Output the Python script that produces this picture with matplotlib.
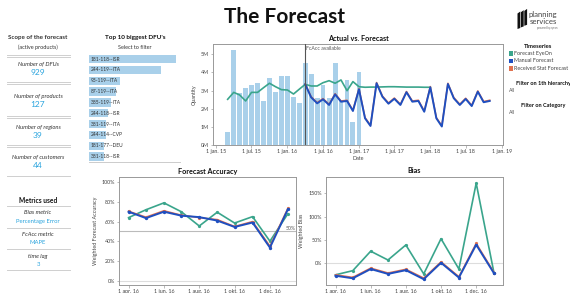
import numpy as np
import pandas as pd
import matplotlib.pyplot as plt
from matplotlib.patches import Rectangle, Polygon
from matplotlib.lines import Line2D

# --- CONFIGURACIÓN ---
W, H = 570, 293
plt.rcParams['font.family'] = ['Lato', 'DejaVu Sans']

C_TEAL = "#3aa58c"
C_BLUE = "#1f4fc0"
C_ORANGE = "#e0714f"
C_BAR = "#a9d0ea"
C_NUM = "#2aa4de"
C_TXT = "#333333"
C_GRID = "#999999"

# --- DATOS: Actual vs. Forecast (millones) ---
actual_dates = pd.date_range("2015-03-01", periods=23, freq="MS")
actual_qty = [0.76, 5.23, 2.88, 3.17, 3.30, 3.44, 2.42, 3.68, 2.91, 3.83, 3.83, 2.64, 2.35,
              4.54, 3.92, 2.60, 3.30, 2.60, 4.54, 2.50, 3.59, 1.30, 4.00]

eyeon_dates = pd.date_range("2015-03-01", periods=35, freq="MS")
eyeon_qty = [2.53, 2.91, 2.77, 2.44, 2.91, 2.91, 3.17, 3.41, 3.22, 3.06, 3.04, 2.82, 3.08,
             3.35, 3.26, 3.26, 3.44, 3.55, 3.41, 3.59, 3.00, 3.50, 3.22, 3.19,
             3.20, 3.20, 3.21, 3.22, 3.22, 3.21, 3.20, 3.20, 3.20, 3.19, 3.19]

manual_dates = pd.date_range("2016-04-01", periods=32, freq="MS")
manual_qty = [3.35, 2.64, 2.31, 2.53, 2.22, 2.80, 2.40, 2.44, 1.89, 3.08, 1.49, 1.07,
              3.41, 2.67, 2.29, 2.56, 2.22, 2.92, 2.40, 2.44, 1.85, 3.19, 1.49, 1.04,
              3.37, 2.59, 2.22, 2.55, 2.16, 2.95, 2.37, 2.44]
stat_qty = [3.38, 2.68, 2.35, 2.57, 2.26, 2.84, 2.44, 2.48, 1.93, 3.12, 1.53, 1.11,
            3.45, 2.71, 2.33, 2.60, 2.26, 2.96, 2.44, 2.48, 1.89, 3.23, 1.53, 1.08,
            3.41, 2.63, 2.26, 2.59, 2.20, 2.99, 2.41, 2.48]

fcacc_start = pd.Timestamp("2016-04-01")

main_ticks = pd.date_range("2015-01-01", periods=9, freq="6MS")
main_tick_labels = ["1 jan. 15", "1 jul. 15", "1 jan. 16", "1 jul. 16", "1 jan. 17",
                    "1 jul. 17", "1 jan. 18", "1 jul. 18", "1 jan. 19"]
qty_ticks = [0, 1, 2, 3, 4, 5]
qty_tick_labels = ["0M", "1M", "2M", "3M", "4M", "5M"]

# --- DATOS: Forecast Accuracy / Bias (%) ---
eval_dates = pd.date_range("2016-04-01", periods=10, freq="MS")
fa_eyeon = [64, 72, 79, 70, 55.5, 69.5, 58.5, 65, 40, 68]
fa_manual = [70, 63.5, 70, 66, 64.5, 61, 54.5, 59, 33.5, 72.5]
fa_stat = [70.5, 64.5, 71, 66.5, 64, 62, 55, 60, 35, 73.5]

bias_eyeon = [-26, -17, 25, 6, 38.5, -24, 52, -13.5, 172, -23]
bias_manual = [-28, -33.5, -13.5, -24, -16, -35.5, 0, -32, 39, -23]
bias_stat = [-26, -31.5, -11.5, -22, -14, -33, 2, -30, 42, -21]

eval_ticks = pd.date_range("2016-04-01", periods=5, freq="2MS")
eval_tick_labels = ["1 apr. 16", "1 jun. 16", "1 aug. 16", "1 okt. 16", "1 dec. 16"]
fa_ticks = [0, 20, 40, 60, 80, 100]
bias_ticks = [0, 50, 100, 150]

# --- DATOS: Top 10 DFU's y panel izquierdo ---
top10_dfu = ["181-118--ISR", "244-119--ITA", "93-119--ITA", "87-119--ITA", "385-119--ITA",
             "244-118--ISR", "381-119--ITA", "244-114--CVP", "181-177--DEU", "381-118--ISR"]
top10_qty = [87.4, 72.4, 31.4, 27.4, 22.4, 19.0, 17.4, 16.7, 15.0, 15.0]

scope_labels = ["Number of DFUs", "Number of products", "Number of regions", "Number of customers"]
scope_values = ["929", "127", "39", "44"]
metric_labels = ["Bias metric", "FcAcc metric", "time lag"]
metric_values = ["Percentage Error", "MAPE", "3"]

series_names = ["Forecast EyeOn", "Manual Forecast", "Received Stat Forecast"]
series_colors = [C_TEAL, C_BLUE, C_ORANGE]


def fx(x):
    return x / W


def fy(y):
    return 1 - y / H


def rect(x0, y0, x1, y1):
    return [fx(x0), fy(y1), (x1 - x0) / W, (y1 - y0) / H]


def texto(x, y, s, size=4.3, **kw):
    kw.setdefault('ha', 'center')
    kw.setdefault('va', 'center')
    kw.setdefault('color', C_TXT)
    fig.text(fx(x), fy(y), s, fontsize=size, **kw)


def linea(x0, x1, y, color="#cfcfcf", lw=0.7):
    fig.add_artist(Line2D([fx(x0), fx(x1)], [fy(y), fy(y)], transform=fig.transFigure,
                          color=color, lw=lw))


def estilo(ax):
    for s in ax.spines.values():
        s.set_color(C_GRID)
        s.set_linewidth(0.7)
    ax.tick_params(labelsize=3.9, length=1.8, width=0.4, color="#888888",
                   labelcolor="#444444", pad=1)


fig = plt.figure(figsize=(W / 100, H / 100), dpi=100)

# titulo grande
texto(285, 17, "The Forecast", size=15, weight='bold', color="#111111")

# --- Logo ---
for i in range(3):
    dx = i * 3.4
    pts = [(517.5 + dx, 29 - i * 1.6), (520.3 + dx, 28 - i * 1.6), (520.3 + dx, 11.5 - i * 1.3),
           (517.5 + dx, 13.5 - i * 1.3)]
    fig.add_artist(Polygon([(fx(a), fy(b)) for a, b in pts], closed=True,
                           transform=fig.transFigure, color="#111111", lw=0))
texto(557, 15, "planning", size=5.6, ha='right', color="#444444")
texto(557, 21.5, "services", size=5.6, ha='right', color="#444444")
texto(557, 27.5, "powered by eyeon", size=1.8, ha='right', color="#666666")

# --- Panel izquierdo ---
texto(38, 38, "Scope of the forecast", size=4.5, weight='bold')
texto(38, 47, "(active products)", size=4.0)
linea(7, 70, 55)
linea(7, 70, 57)
ys = [(64, 72.5, 82, 84), (96, 104.5, 116, 118), (127, 135.5, 145, 147), (157, 166, 176, None)]
for (ly, vy, l1, l2), lab, val in zip(ys, scope_labels, scope_values):
    texto(38, ly, lab, size=4.2, style='italic')
    texto(38, vy, val, size=6.0, color=C_NUM)
    linea(7, 70, l1)
    if l2:
        linea(7, 70, l2)

texto(38, 200.5, "Metrics used", size=4.8, weight='bold', color="#111111")
linea(7, 70, 206)
for (ly, vy, l1), lab, val in zip([(213, 221, 228), (235, 242.5, 249), (256.5, 264, 270)],
                                  metric_labels, metric_values):
    texto(38, ly, lab, size=4.2, style='italic')
    texto(38, vy, val, size=4.2, color=C_NUM)
    linea(7, 70, l1)

# --- Top 10 ---
texto(135, 38, "Top 10 biggest DFU's", size=4.6, weight='bold', color="#111111")
texto(135, 47.3, "Select to filter", size=4.0)
ax_t = fig.add_axes(rect(89, 53.6, 180, 162))
yy = np.arange(len(top10_dfu))
ax_t.barh(yy, top10_qty, height=0.77, color=C_BAR, lw=0)
for y, lab in zip(yy, top10_dfu):
    ax_t.text(1.5, y, lab, fontsize=3.5, va='center', ha='left', color="#333333")
ax_t.set_xlim(0, 91)
ax_t.set_ylim(len(top10_dfu) - 0.5, -0.5)
for s in ["top", "left", "right"]:
    ax_t.spines[s].set_visible(False)
ax_t.spines["bottom"].set_color("#cccccc")
ax_t.spines["bottom"].set_linewidth(0.7)
ax_t.set_xticks([])
ax_t.set_yticks([])

# --- Actual vs. Forecast ---
ax = fig.add_axes(rect(213, 44, 503, 145.5))
ax.bar(actual_dates, actual_qty, width=25, color=C_BAR, lw=0, zorder=1)
ax.plot(eyeon_dates, eyeon_qty, color=C_TEAL, lw=1.2, zorder=3)
ax.plot(manual_dates, stat_qty, color=C_ORANGE, lw=1.1, zorder=4)
ax.plot(manual_dates, manual_qty, color=C_BLUE, lw=1.4, zorder=5)
ax.axvline(fcacc_start, color="#555555", lw=0.8, zorder=6)
ax.set_ylim(0, 5.56)
ax.set_xlim(pd.Timestamp("2014-12-16"), pd.Timestamp("2019-01-08"))
ax.text(fcacc_start + pd.Timedelta(days=6), 5.45, "FcAcc available", fontsize=3.7,
        color="#555555", va='top', ha='left')
ax.set_xticks(main_ticks)
ax.set_xticklabels(main_tick_labels)
ax.set_yticks(qty_ticks)
ax.set_yticklabels(qty_tick_labels)
estilo(ax)
ax.set_xlabel("Date", fontsize=3.9, labelpad=1.5, color="#444444")
ax.set_ylabel("Quantity", fontsize=3.9, labelpad=3, color="#444444")
ax.set_title("Actual vs. Forecast", fontsize=5.2, weight='bold', pad=2.5, color="#111111")

# --- Leyenda y filtros ---
texto(538, 46.7, "Timeseries", size=4.2, weight='bold', color="#111111")
for i, (nm, c) in enumerate(zip(series_names, series_colors)):
    yc = 53.5 + i * 7.5
    fig.add_artist(Rectangle((fx(508.5), fy(yc + 2.3)), 4.3 / W, 4.6 / H,
                             transform=fig.transFigure, color=c, lw=0))
    texto(514.5, yc, nm, size=3.9, ha='left', color="#444444")
texto(543, 83.3, "Filter on 1th hierarchy", size=4.0, weight='bold', color="#111111")
texto(508.5, 91, "All", size=3.8, ha='left', color="#555555")
texto(543, 105, "Filter on Category", size=4.0, weight='bold', color="#111111")
texto(508.5, 112.7, "All", size=3.8, ha='left', color="#555555")

# --- Forecast Accuracy ---
ax_fa = fig.add_axes(rect(119.3, 177.3, 296, 285))
ax_fa.axhline(0, color="#dddddd", lw=0.8, zorder=0)
ax_fa.axhline(50, color="#bbbbbb", lw=0.8, zorder=0)
ax_fa.text(1.0, 50.8, "50%", transform=ax_fa.get_yaxis_transform(), fontsize=3.7,
           ha='right', va='bottom', color="#555555")
ax_fa.plot(eval_dates, fa_eyeon, color=C_TEAL, lw=1.2, marker='o', ms=1.3, zorder=3)
ax_fa.plot(eval_dates, fa_stat, color=C_ORANGE, lw=1.1, marker='o', ms=1.3, zorder=4)
ax_fa.plot(eval_dates, fa_manual, color=C_BLUE, lw=1.4, marker='o', ms=1.4, zorder=5)
ax_fa.set_ylim(-4.5, 105)
ax_fa.set_xlim(pd.Timestamp("2016-03-16"), pd.Timestamp("2017-01-15"))
ax_fa.set_yticks(fa_ticks)
ax_fa.set_yticklabels([f"{v}%" for v in fa_ticks])
ax_fa.set_xticks(eval_ticks)
ax_fa.set_xticklabels(eval_tick_labels)
estilo(ax_fa)
ax_fa.set_ylabel("Weighted Forecast Accuracy", fontsize=3.9, labelpad=3, color="#444444")
ax_fa.set_title("Forecast Accuracy", fontsize=5.2, weight='bold', pad=2.5, color="#111111")

# --- Bias ---
ax_b = fig.add_axes(rect(325.7, 176.7, 503.3, 285))
ax_b.axhline(0, color="#dddddd", lw=0.8, zorder=0)
ax_b.plot(eval_dates, bias_eyeon, color=C_TEAL, lw=1.2, marker='o', ms=1.3, zorder=3)
ax_b.plot(eval_dates, bias_stat, color=C_ORANGE, lw=1.1, marker='o', ms=1.3, zorder=4)
ax_b.plot(eval_dates, bias_manual, color=C_BLUE, lw=1.4, marker='o', ms=1.4, zorder=5)
ax_b.set_ylim(-48, 186)
ax_b.set_xlim(pd.Timestamp("2016-03-15"), pd.Timestamp("2017-01-17"))
ax_b.set_yticks(bias_ticks)
ax_b.set_yticklabels([f"{v}%" for v in bias_ticks])
ax_b.set_xticks(eval_ticks)
ax_b.set_xticklabels(eval_tick_labels)
estilo(ax_b)
ax_b.set_ylabel("Weighted Bias", fontsize=3.9, labelpad=3, color="#444444")
ax_b.set_title("Bias", fontsize=5.2, weight='bold', pad=2.5, color="#111111")

fig.savefig("out.png", dpi=100, facecolor="white")
